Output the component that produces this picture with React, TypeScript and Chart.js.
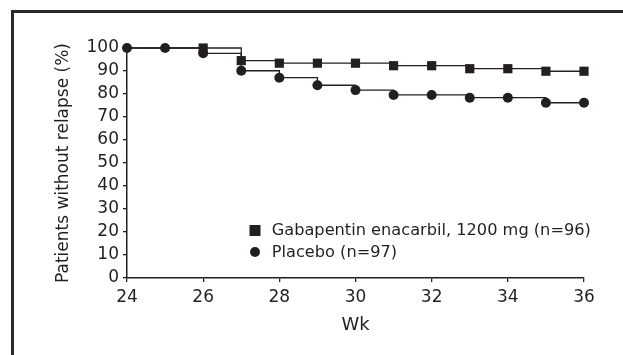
import React, { useEffect, useRef } from 'react';
import { Chart, registerables } from 'chart.js';

Chart.register(...registerables);

const weeks = [24, 25, 26, 27, 28, 29, 30, 31, 32, 33, 34, 35, 36];
const gabapentinPct = [100, 100, 100, 94.5, 93.4, 93.4, 93.4, 92.3, 92.3, 91.0, 91.0, 89.9, 89.9];
const placeboPct = [100, 100, 97.7, 90.1, 87.1, 83.8, 81.7, 79.6, 79.6, 78.4, 78.4, 76.2, 76.2];
const seriesLabels = ['Gabapentin enacarbil, 1200 mg (n=96)', 'Placebo (n=97)'];
const xTitle = 'Wk';
const yTitle = 'Patients without relapse (%)';
const xMin = 24;
const xMax = 36;
const xStep = 2;
const yMin = 0;
const yMax = 100;
const yStep = 10;
// weeks before this one show only the placebo marker (the two coincide at 100%)
const firstGabapentinMarkerWeek = 26;

const INK = '#231f20';
const FONT = '"DejaVu Sans", sans-serif';

const insideLegend = {
  id: 'insideLegend',
  afterDraw(chart: any) {
    const { ctx, chartArea } = chart;
    const x0 = chartArea.left + 128;
    const rows = [chartArea.bottom - 47.5, chartArea.bottom - 26];
    ctx.save();
    ctx.font = `16.2px ${FONT}`;
    ctx.textBaseline = 'middle';
    ctx.textAlign = 'left';
    ctx.fillStyle = INK;
    chart.data.datasets.forEach((ds: any, i: number) => {
      const y = rows[i];
      ctx.beginPath();
      if (ds.pointStyle === 'rect') ctx.rect(x0 - 5.5, y - 5.5, 11, 11);
      else ctx.arc(x0, y, 5, 0, Math.PI * 2);
      ctx.fill();
      ctx.fillText(ds.label, x0 + 16.7, y + 0.5);
    });
    ctx.restore();
  },
};

export default function App() {
  const ref = useRef<HTMLCanvasElement | null>(null);

  useEffect(() => {
    if (!ref.current) return;
    const chart = new Chart(ref.current, {
      type: 'line',
      data: {
        datasets: [
          {
            label: seriesLabels[0],
            data: weeks.map((w, i) => ({ x: w, y: gabapentinPct[i] })),
            stepped: true,
            borderColor: INK,
            borderWidth: 1.3,
            pointStyle: 'rect',
            pointRadius: weeks.map((w) => (w < firstGabapentinMarkerWeek ? 0 : 6.5)),
            pointBackgroundColor: INK,
            pointBorderWidth: 0,
            clip: false,
            order: 0,
          } as any,
          {
            label: seriesLabels[1],
            data: weeks.map((w, i) => ({ x: w, y: placeboPct[i] })),
            stepped: true,
            borderColor: INK,
            borderWidth: 1.3,
            pointStyle: 'circle',
            pointRadius: 5,
            pointBackgroundColor: INK,
            pointBorderWidth: 0,
            clip: false,
            order: 1,
          } as any,
        ],
      },
      options: {
        animation: false,
        responsive: false,
        maintainAspectRatio: false,
        devicePixelRatio: 1,
        layout: { padding: { left: 0, top: 48, right: 39, bottom: 0 } },
        plugins: { legend: { display: false }, tooltip: { enabled: false } },
        scales: {
          x: {
            type: 'linear',
            min: xMin,
            max: xMax,
            ticks: { stepSize: xStep, autoSkip: false, padding: 5, color: INK, font: { family: FONT, size: 17 } },
            grid: { drawOnChartArea: false, tickLength: 4, color: INK, lineWidth: 1.3 },
            border: { color: INK, width: 1.5 },
            title: {
              display: true,
              text: xTitle,
              color: INK,
              font: { family: FONT, size: 18 },
              padding: { top: 0, bottom: 19 },
            },
            afterFit(s: any) {
              s.height = 77;
            },
          },
          y: {
            type: 'linear',
            min: yMin,
            max: yMax,
            ticks: { stepSize: yStep, autoSkip: false, padding: 4, color: INK, font: { family: FONT, size: 17 } },
            grid: { drawOnChartArea: false, tickLength: 4, color: INK, lineWidth: 1.3 },
            border: { color: INK, width: 1.5 },
            title: {
              display: true,
              text: yTitle,
              color: INK,
              font: { family: FONT, size: 17 },
              padding: { top: 53, bottom: 0 },
            },
            afterFit(s: any) {
              s.width = 127;
            },
          },
        },
      } as any,
      plugins: [insideLegend],
    });
    return () => chart.destroy();
  }, []);

  return (
    <div style={{ position: 'fixed', left: 0, top: 0, width: 623, height: 355, overflow: 'hidden', background: '#fff' }}>
      <div
        style={{
          position: 'absolute',
          left: 11,
          top: 10,
          width: 800,
          height: 500,
          border: '3px solid #2a2a2a',
        }}
      />
      <canvas ref={ref} width={623} height={355} style={{ position: 'absolute', left: 0, top: 0, display: 'block' }} />
    </div>
  );
}
